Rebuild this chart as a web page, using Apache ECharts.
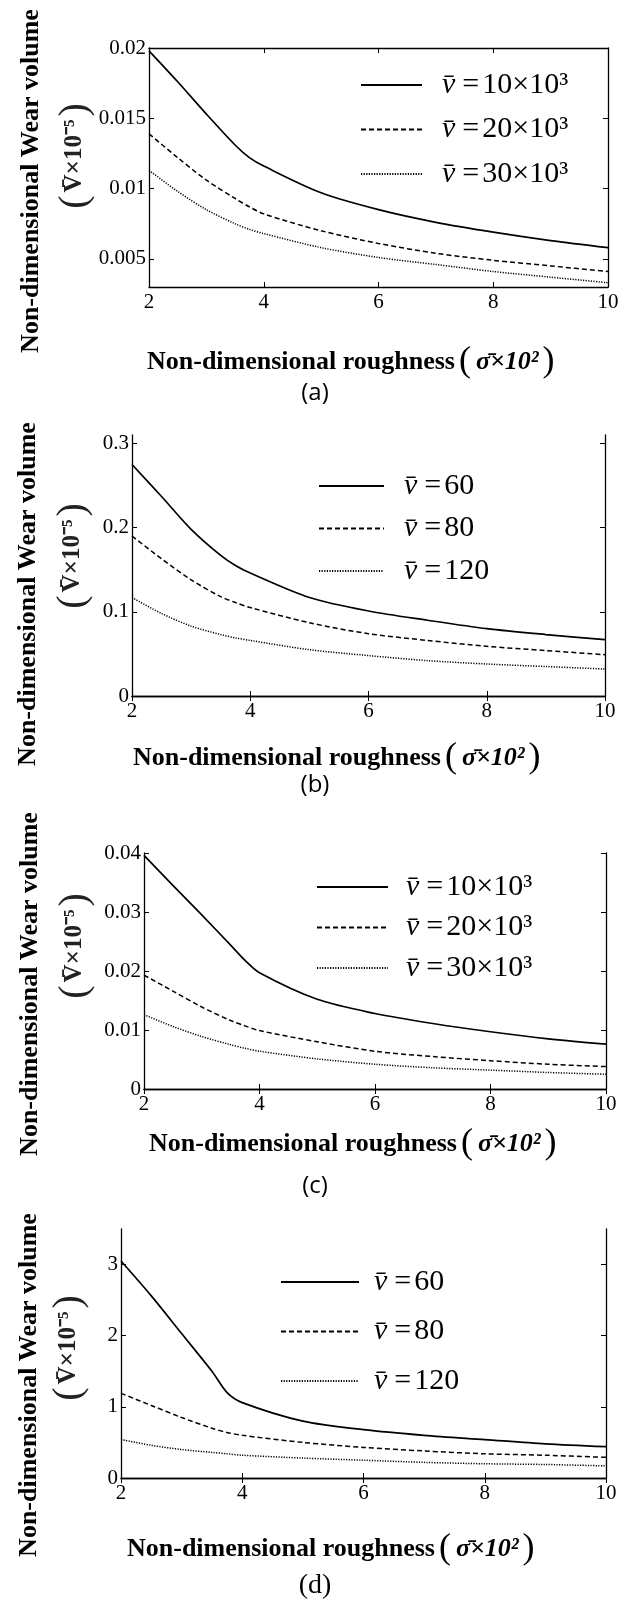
<html>
<head>
<meta charset="utf-8">
<title>Non-dimensional wear volume vs roughness</title>
<script src="https://cdn.jsdelivr.net/npm/echarts@6.0.0/dist/echarts.min.js"></script>
<style>body{margin:0;background:#fff}</style>
</head>
<body>
<div id="main" style="width:632px;height:1602px"></div>
<script type="text/javascript">
var roughness = [2, 2.5, 3, 3.5, 3.75, 4, 5, 6, 7, 8, 9, 10];
var xTicks = [2, 4, 6, 8, 10];

// (a)
var aSolid  = [0.0198, 0.0176, 0.0153, 0.0131, 0.0122, 0.0116, 0.0097, 0.0085, 0.0076, 0.0069, 0.0063, 0.0058];
var aDashed = [0.0139, 0.0122, 0.0106, 0.0093, 0.0087, 0.0082, 0.0070, 0.0061, 0.0054, 0.0049, 0.0045, 0.0041];
var aDotted = [0.0113, 0.0098, 0.0085, 0.0075, 0.0071, 0.0068, 0.0058, 0.0051, 0.0046, 0.0041, 0.0037, 0.0033];
var aTicks  = [0.005, 0.01, 0.015, 0.02];
// (b)
var bSolid  = [0.275, 0.237, 0.198, 0.167, 0.155, 0.146, 0.117, 0.101, 0.090, 0.080, 0.073, 0.067];
var bDashed = [0.190, 0.163, 0.138, 0.118, 0.111, 0.105, 0.087, 0.074, 0.066, 0.059, 0.054, 0.049];
var bDotted = [0.117, 0.098, 0.083, 0.073, 0.069, 0.066, 0.055, 0.048, 0.042, 0.038, 0.035, 0.032];
var bTicks  = [0, 0.1, 0.2, 0.3];
// (c)
var cSolid  = [0.0396, 0.0345, 0.0295, 0.0244, 0.0218, 0.0197, 0.0152, 0.0128, 0.0111, 0.0097, 0.0085, 0.0076];
var cDashed = [0.0193, 0.0166, 0.0139, 0.0116, 0.0107, 0.0099, 0.0080, 0.0064, 0.0055, 0.0048, 0.0042, 0.0038];
var cDotted = [0.0126, 0.0106, 0.0089, 0.0075, 0.0069, 0.0064, 0.0051, 0.0042, 0.0036, 0.0032, 0.0028, 0.0025];
var cTicks  = [0, 0.01, 0.02, 0.03, 0.04];
// (d)
var dSolid  = [3.05, 2.56, 2.03, 1.50, 1.20, 1.06, 0.80, 0.68, 0.60, 0.54, 0.48, 0.44];
var dDashed = [1.19, 1.02, 0.85, 0.70, 0.64, 0.60, 0.50, 0.43, 0.38, 0.34, 0.32, 0.29];
var dDotted = [0.54, 0.46, 0.40, 0.36, 0.34, 0.32, 0.28, 0.25, 0.22, 0.20, 0.19, 0.17];
var dTicks  = [0, 1, 2, 3];

var speedsAC = ['10×10³', '20×10³', '30×10³'];
var speedsBD = ['60', '80', '120'];

var SERIF = '"Liberation Serif", "Times New Roman", serif';
var myChart = echarts.init(document.getElementById('main'));

// panel boxes: left, top, width, height ; legend: left, top, line width, gap, text pad
var panels = [
    {box: [149, 48, 459, 239], min: 0.003, max: 0.02, ticks: aTicks, data: [aSolid, aDashed, aDotted], names: speedsAC,
     leg: [360, 70, 61, 14.5, 15]},
    {box: [132, 435, 473, 261], min: 0, max: 0.31, ticks: bTicks, data: [bSolid, bDashed, bDotted], names: speedsBD,
     leg: [318, 471, 65, 12.5, 15]},
    {box: [144, 853, 462, 236], min: 0, max: 0.04, ticks: cTicks, data: [cSolid, cDashed, cDotted], names: speedsAC,
     leg: [316, 872, 71, 10.5, 13]},
    {box: [121, 1229, 485, 249], min: 0, max: 3.5, ticks: dTicks, data: [dSolid, dDashed, dDotted], names: speedsBD,
     leg: [280, 1267, 78, 19.5, 10]}
];

var lineStyles = [
    {color: '#000', width: 1.7, type: 'solid'},
    {color: '#000', width: 1.5, type: [5, 3]},
    {color: '#000', width: 1.5, type: [1.2, 1.4]}
];

function pairs(xs, ys) {
    var out = [];
    for (var i = 0; i < xs.length; i++) out.push([xs[i], ys[i]]);
    return out;
}

var axisLineBlack = {show: true, lineStyle: {color: '#000', width: 1.3}};
var grids = [], xAxes = [], yAxes = [], series = [], legends = [];

panels.forEach(function (p, k) {
    grids.push({left: p.box[0], top: p.box[1], width: p.box[2], height: p.box[3]});
    xAxes.push({
        type: 'value', gridIndex: k, position: 'bottom', min: 2, max: 10, interval: 2,
        axisLine: axisLineBlack, splitLine: {show: false},
        axisTick: {inside: true, length: 5, lineStyle: {color: '#000', width: 1}},
        axisLabel: {color: '#000', fontFamily: SERIF, fontSize: 21, margin: 5}
    });
    xAxes.push({
        type: 'value', gridIndex: k, position: 'top', min: 2, max: 10, interval: 2,
        axisLine: axisLineBlack, splitLine: {show: false},
        axisTick: {inside: true, length: 5, lineStyle: {color: '#000', width: 1}},
        axisLabel: {show: false}
    });
    yAxes.push({
        type: 'value', gridIndex: k, position: 'left', min: p.min, max: p.max,
        axisLine: axisLineBlack, splitLine: {show: false},
        axisTick: {inside: true, length: 5, customValues: p.ticks, lineStyle: {color: '#000', width: 1}},
        axisLabel: {color: '#000', fontFamily: SERIF, fontSize: 21, margin: 3, customValues: p.ticks}
    });
    yAxes.push({
        type: 'value', gridIndex: k, position: 'right', min: p.min, max: p.max,
        axisLine: axisLineBlack, splitLine: {show: false},
        axisTick: {inside: true, length: 5, customValues: p.ticks, lineStyle: {color: '#000', width: 1}},
        axisLabel: {show: false}
    });
    for (var j = 0; j < 3; j++) {
        series.push({
            name: p.names[j], type: 'line', xAxisIndex: 2 * k, yAxisIndex: 2 * k,
            data: pairs(roughness, p.data[j]), symbol: 'none', smooth: 0.3,
            color: '#000', lineStyle: lineStyles[j], silent: true
        });
    }
    legends.push({
        orient: 'vertical', left: p.leg[0], top: p.leg[1], itemWidth: p.leg[2], itemHeight: 14,
        itemGap: p.leg[3], padding: 0, selectedMode: false, data: p.names,
        itemStyle: {color: 'rgba(0,0,0,0)', borderColor: 'rgba(0,0,0,0)', borderWidth: 0},
        formatter: function (name) { return '{v|v\u0304}{e|=}{n|' + name + '}'; },
        textStyle: {
            fontFamily: SERIF, fontSize: 30, color: '#000',
            rich: {
                v: {fontFamily: SERIF, fontStyle: 'italic', fontSize: 30, lineHeight: 30, color: '#000', padding: [0, 0, 0, p.leg[4]]},
                e: {fontFamily: SERIF, fontSize: 30, lineHeight: 30, color: '#000', padding: [0, 3, 0, 7]},
                n: {fontFamily: SERIF, fontSize: 30, lineHeight: 30, color: '#000'}
            }
        }
    });
});

// free text: axis names and captions
var yName1 = [[31, 181], [28, 594], [30, 984], [29, 1385]];
var yName2 = [[75, 156], [73, 556], [75, 946], [69, 1348]];
var xName  = [[147, 362], [133, 758], [149, 1144], [127, 1549]];
var captions = ['(a)', '(b)', '(c)', '(d)'];
var capPos = [[315, 393], [315, 785], [315, 1186], [315, 1586]];

var graphics = [];
for (var k = 0; k < 4; k++) {
    graphics.push({
        type: 'text', x: yName1[k][0], y: yName1[k][1], rotation: Math.PI / 2,
        style: {text: 'Non-dimensional Wear volume', fontFamily: SERIF, fontWeight: 'bold', fontSize: 26,
                fill: '#000', align: 'center', verticalAlign: 'middle'}
    });
    graphics.push({
        type: 'text', x: yName2[k][0], y: yName2[k][1], rotation: Math.PI / 2,
        style: {
            text: '{p|(}{v|V\u0304×10⁻⁵}{p|)}', align: 'center', verticalAlign: 'middle',
            rich: {
                p: {fontFamily: SERIF, fontSize: 40, fill: '#222', padding: [0, 3, 0, 3]},
                v: {fontFamily: SERIF, fontWeight: 'bold', fontSize: 25, fill: '#222'}
            }
        }
    });
    graphics.push({
        type: 'text', x: xName[k][0], y: xName[k][1],
        style: {
            text: '{a|Non-dimensional roughness}{p|(}{s|σ\u0304×10²}{p|)}', align: 'left', verticalAlign: 'middle',
            rich: {
                a: {fontFamily: SERIF, fontWeight: 'bold', fontSize: 26, fill: '#000'},
                p: {fontFamily: SERIF, fontSize: 36, fill: '#000', padding: [0, 5, 0, 4]},
                s: {fontFamily: SERIF, fontWeight: 'bold', fontStyle: 'italic', fontSize: 26, fill: '#000'}
            }
        }
    });
    graphics.push({
        type: 'text', x: capPos[k][0], y: capPos[k][1],
        style: {text: captions[k], fontFamily: k < 3 ? '"Open Sans", sans-serif' : SERIF, fontSize: k < 3 ? 24 : 28,
                fill: '#000', align: 'center', verticalAlign: 'middle'}
    });
}

var option = {
    animation: false,
    backgroundColor: '#fff',
    textStyle: {fontFamily: SERIF},
    grid: grids,
    xAxis: xAxes,
    yAxis: yAxes,
    legend: legends,
    series: series,
    graphic: graphics
};
myChart.setOption(option);
</script>
</body>
</html>
